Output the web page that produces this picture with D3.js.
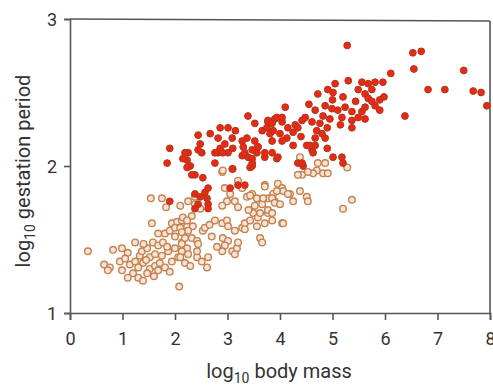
<!DOCTYPE html>
<html><head><meta charset="utf-8">
<script src="https://cdn.jsdelivr.net/npm/d3@7"></script>
<style>body{margin:0;background:#fff}svg{display:block}text{font-family:Roboto,"DejaVu Sans",sans-serif;fill:#333}</style>
</head><body>
<svg id="c" width="493" height="385"></svg>
<script>
const xTicks = [0,1,2,3,4,5,6,7,8];
const yTicks = [1,2,3];
const xLabel = "body mass";
const yLabel = "gestation period";

// pale (outlined) series: [log10 body mass, log10 gestation period]
const paleSeries = [
[1.54,1.78],[1.75,1.78],[1.83,1.72],[1.56,1.61],[1.94,1.61],[2.04,1.62],[2.13,1.63],[0.34,1.42],[0.82,1.43],[1.24,1.48],
[0.99,1.44],[1.10,1.41],[0.95,1.35],[0.65,1.33],[0.76,1.31],[0.72,1.29],[0.99,1.29],[1.14,1.33],[1.24,1.35],[1.33,1.39],
[1.37,1.42],[1.47,1.44],[1.58,1.48],[1.68,1.46],[1.77,1.48],[1.81,1.54],[1.90,1.56],[2.00,1.58],[1.68,1.54],[1.52,1.38],
[1.39,1.34],[1.30,1.31],[1.20,1.27],[1.30,1.24],[1.39,1.22],[1.10,1.24],[1.52,1.30],[1.62,1.32],[1.71,1.34],[1.81,1.31],
[1.68,1.29],[1.47,1.27],[1.62,1.40],[1.75,1.39],[1.87,1.42],[2.00,1.44],[2.06,1.38],[1.94,1.35],[2.08,1.18],[2.13,1.48],
[2.90,1.96],[3.20,1.90],[3.28,1.85],[3.71,1.87],[3.96,1.88],[4.04,1.85],[2.95,1.85],[3.05,1.81],[3.14,1.76],[2.99,1.76],
[2.90,1.73],[3.20,1.72],[3.37,1.79],[3.47,1.81],[3.56,1.78],[3.66,1.74],[3.52,1.73],[3.77,1.78],[3.90,1.76],[3.87,1.81],
[2.10,1.73],[2.25,1.76],[2.38,1.79],[2.38,1.74],[2.48,1.71],[2.32,1.66],[2.15,1.65],[2.10,1.58],[2.23,1.59],[2.23,1.63],
[2.34,1.59],[2.25,1.56],[2.13,1.55],[2.19,1.51],[2.32,1.51],[2.42,1.49],[2.13,1.47],[2.23,1.44],[2.13,1.42],[2.25,1.40],
[2.10,1.38],[2.19,1.34],[2.29,1.32],[2.42,1.38],[2.51,1.35],[2.61,1.31],[2.63,1.38],[2.42,1.42],[2.44,1.47],[2.53,1.56],
[2.57,1.58],[2.76,1.63],[2.90,1.61],[2.99,1.63],[3.01,1.59],[3.14,1.56],[3.28,1.58],[3.33,1.61],[3.43,1.63],[3.49,1.68],
[3.58,1.65],[3.56,1.59],[3.71,1.61],[3.85,1.63],[3.77,1.68],[4.04,1.61],[2.91,1.51],[3.01,1.49],[2.95,1.46],[2.90,1.42],
[3.09,1.42],[3.18,1.44],[3.20,1.48],[3.14,1.40],[3.62,1.51],[3.66,1.48],[4.38,2.06],[4.72,2.02],[4.86,2.02],[4.70,1.97],
[4.82,1.95],[4.91,1.95],[4.63,1.95],[4.53,1.96],[4.42,1.94],[4.34,1.94],[5.28,1.99],[4.06,1.83],[4.19,1.81],[3.94,1.83],
[3.85,1.78],[3.68,1.78],[3.90,1.75],[4.00,1.74],[4.25,1.76],[4.38,1.83],[4.51,1.79],[4.53,1.76],[5.37,1.77],[5.20,1.71],
[3.77,1.70],[3.85,1.68],[4.06,1.61],[3.62,1.68],[3.33,1.57],[4.15,1.81],[3.43,1.80],[2.91,1.97],[3.71,1.86],[1.05,1.37],
[1.45,1.36],[1.60,1.25],[1.85,1.45],[2.70,1.52],[2.80,1.45],[2.66,1.60],[3.40,1.70],[1.40,1.47],[1.90,1.28],[2.00,1.52]
];

// red (filled) series
const redSeries = [
[1.90,1.76],[2.25,2.09],[2.29,2.00],[2.23,2.04],[2.51,2.09],[2.76,2.02],[2.38,1.94],[2.53,1.92],[2.82,2.09],[3.01,2.09],
[3.10,1.98],[3.28,2.07],[3.39,2.06],[3.47,2.00],[3.56,2.09],[3.71,2.06],[3.85,2.09],[3.94,2.05],[2.38,1.81],[2.48,1.79],
[2.57,1.82],[2.61,1.78],[2.63,1.74],[2.44,1.74],[2.38,1.71],[2.63,1.71],[3.05,1.85],[3.20,1.87],[3.33,1.87],[4.25,2.14],
[4.51,2.14],[4.61,2.11],[4.67,2.14],[4.34,2.02],[4.44,2.00],[5.01,2.06],[5.18,2.06],[5.20,2.02],[3.39,2.34],[2.86,2.26],
[3.01,2.26],[2.67,2.22],[2.44,2.21],[2.48,2.15],[2.82,2.19],[3.09,2.19],[3.28,2.17],[3.37,2.19],[3.52,2.29],[3.66,2.24],
[3.77,2.30],[3.81,2.22],[3.52,2.17],[3.58,2.13],[3.47,2.11],[3.71,2.09],[3.33,2.09],[1.90,2.12],[1.85,2.02],[2.19,2.09],
[2.15,2.05],[2.23,1.99],[2.44,2.11],[2.76,2.09],[2.86,2.12],[2.91,2.09],[3.10,2.12],[3.09,1.98],[3.43,1.99],[3.47,2.05],
[2.32,1.94],[2.63,1.85],[5.28,2.82],[5.05,2.56],[5.30,2.58],[5.56,2.57],[5.68,2.56],[5.81,2.57],[4.72,2.49],[4.91,2.52],
[5.01,2.50],[5.49,2.52],[5.62,2.49],[5.75,2.52],[5.68,2.46],[5.81,2.41],[5.62,2.40],[5.56,2.37],[5.90,2.38],[5.90,2.45],
[4.67,2.38],[4.86,2.41],[4.99,2.39],[5.10,2.38],[5.24,2.40],[5.37,2.37],[4.82,2.34],[4.95,2.32],[5.18,2.33],[5.37,2.31],
[5.49,2.33],[5.62,2.32],[4.61,2.30],[4.76,2.29],[4.90,2.26],[4.70,2.24],[4.80,2.22],[4.67,2.19],[4.86,2.19],[5.37,2.26],
[3.77,2.31],[3.90,2.32],[4.04,2.30],[4.15,2.26],[4.29,2.28],[4.42,2.31],[4.48,2.33],[3.75,2.26],[3.87,2.24],[4.00,2.22],
[4.13,2.19],[4.25,2.23],[4.34,2.26],[3.85,2.17],[4.04,2.17],[4.57,2.14],[4.90,2.12],[3.96,2.06],[6.53,2.77],[6.69,2.78],
[6.55,2.66],[6.11,2.63],[6.82,2.52],[7.14,2.52],[7.50,2.65],[7.68,2.51],[7.83,2.50],[7.94,2.41],[6.38,2.34],[5.96,2.57],
[5.98,2.47],[3.94,2.33],[4.04,2.33],[3.85,2.29],[4.63,2.09],[4.42,2.02],[3.47,2.02],[3.30,2.13],[3.58,2.13],[5.44,2.44],
[5.20,2.47],[5.75,2.44],[4.55,2.42],[5.00,2.45],[4.40,2.20],[4.10,2.40],[5.15,2.28],[2.95,2.15],[3.15,2.24]
];

const svg = d3.select("#c");
const x = d3.scaleLinear().domain([0,8]).range([70,490]);
const y = d3.scaleLinear().domain([1,3]).range([313,19]);
const axisCol = "#555";

// frame: top and right
svg.append("line").attr("x1",x(0)).attr("x2",x(8)).attr("y1",y(3)).attr("y2",y(3)+2)
  .attr("stroke",axisCol).attr("stroke-width",1.6);
svg.append("line").attr("x1",x(8)).attr("x2",x(8)).attr("y1",y(3)+2).attr("y2",y(1))
  .attr("stroke",axisCol).attr("stroke-width",1.6);

const gx = svg.append("g").attr("transform",`translate(0,${y(1)})`)
  .call(d3.axisBottom(x).tickValues(xTicks).tickSize(7).tickPadding(12).tickFormat(d3.format("d")));
const gy = svg.append("g").attr("transform",`translate(${x(0)},0)`)
  .call(d3.axisLeft(y).tickValues(yTicks).tickSize(6).tickPadding(7).tickFormat(d3.format("d")));
[gx,gy].forEach(g=>{
  g.select(".domain").attr("stroke",axisCol).attr("stroke-width",1.6);
  g.selectAll(".tick line").attr("stroke",axisCol).attr("stroke-width",1.6);
  g.selectAll(".tick text").attr("font-size",18).attr("fill","#333").style("font-family","Roboto, sans-serif");
});
gy.selectAll(".tick text").attr("dy","0.35em");

// points
svg.append("g").selectAll("circle").data(paleSeries).join("circle")
  .attr("cx",d=>x(d[0])).attr("cy",d=>y(d[1])).attr("r",3.3)
  .attr("fill","#f8e2dc").attr("stroke","#c4834a").attr("stroke-width",1.4);
svg.append("g").selectAll("circle").data(redSeries).join("circle")
  .attr("cx",d=>x(d[0])).attr("cy",d=>y(d[1])).attr("r",3.4)
  .attr("fill","#ec2814").attr("stroke","#a83a1e").attr("stroke-width",1);

// axis labels
const xl = svg.append("text").attr("x",279).attr("y",378).attr("text-anchor","middle").attr("font-size",20);
xl.append("tspan").text("log");
xl.append("tspan").attr("font-size",14).attr("dy",5).text("10");
xl.append("tspan").attr("dy",-5).text(" " + xLabel);

const yl = svg.append("text").attr("transform","translate(30,171) rotate(-90)").attr("text-anchor","middle").attr("font-size",20);
yl.append("tspan").text("log");
yl.append("tspan").attr("font-size",14).attr("dy",5).text("10");
yl.append("tspan").attr("dy",-5).text(" " + yLabel);
</script>
</body></html>
